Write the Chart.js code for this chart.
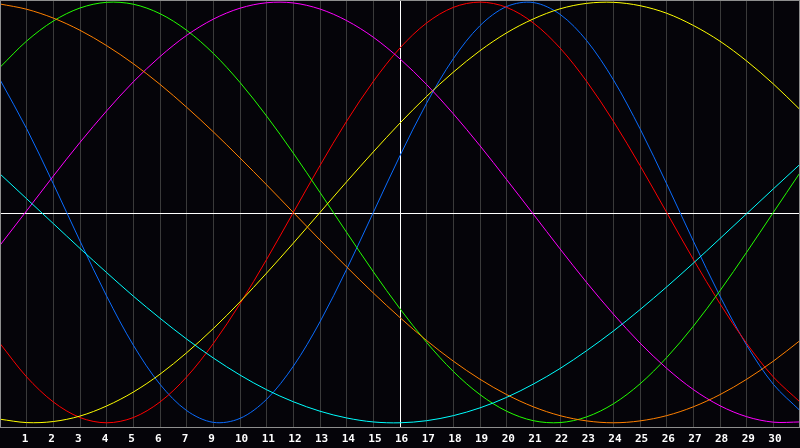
<!DOCTYPE html>
<html>
<head>
<meta charset="utf-8">
<style>
  html, body { margin: 0; padding: 0; background: #050409; }
  canvas { display: block; }
</style>
</head>
<body>
<canvas id="bio" width="800" height="448"></canvas>
<script src="https://cdn.jsdelivr.net/npm/chart.js@4.4.1/dist/chart.umd.min.js"></script>
<script>
// day positions along the axis (0 and 30 are the frame edges)
const days = [0, 1, 2, 3, 4, 5, 6, 7, 8, 9, 10, 11, 12, 13, 14, 15, 16, 17, 18, 19, 20, 21, 22, 23, 24, 25, 26, 27, 28, 29, 30];
// labels under the grid lines (the chart skips 8)
const dayLabels = ['', '1', '2', '3', '4', '5', '6', '7', '9', '10', '11', '12', '13', '14', '15', '16', '17', '18', '19', '20', '21', '22', '23', '24', '25', '26', '27', '28', '29', '30', ''];
const todayIndex = 15;

// curve values, -100..100
const blue    = [63.1, 39.8, 13.6, -13.6, -39.8, -63.1, -81.7, -94.2, -99.8, -97.9, -88.8, -73.1, -52.0, -27.0, 0, 27.0, 52.0, 73.1, 88.8, 97.9, 99.8, 94.2, 81.7, 63.1, 39.8, 13.6, -13.6, -39.8, -63.1, -81.7, -94.2];
const red     = [-62.3, -78.2, -90.1, -97.5, -100, -97.5, -90.1, -78.2, -62.3, -43.4, -22.3, 0, 22.3, 43.4, 62.3, 78.2, 90.1, 97.5, 100, 97.5, 90.1, 78.2, 62.3, 43.4, 22.3, 0, -22.3, -43.4, -62.3, -78.2, -90.1];
const green   = [69.0, 81.5, 91.0, 97.2, 99.9, 99.0, 94.5, 86.6, 75.6, 61.8, 45.8, 28.2, 9.5, -9.5, -28.2, -45.8, -61.8, -75.6, -86.6, -94.5, -99.0, -99.9, -97.2, -91.0, -81.5, -69.0, -54.1, -37.2, -18.9, 0, 18.9];
const magenta = [-15.6, 0.8, 17.3, 33.3, 48.3, 62.1, 74.1, 84.2, 91.9, 97.1, 99.7, 99.6, 96.7, 91.2, 83.3, 73.0, 60.8, 46.9, 31.7, 15.6, -0.8, -17.3, -33.3, -48.3, -62.1, -74.1, -84.2, -91.9, -97.1, -99.7, -99.6];
const yellow  = [-98.3, -99.9, -99.4, -96.8, -92.0, -85.4, -76.9, -66.7, -55.2, -42.5, -28.8, -14.6, 0, 14.6, 28.8, 42.5, 55.2, 66.7, 76.9, 85.4, 92.0, 96.8, 99.4, 99.9, 98.3, 94.7, 88.9, 81.4, 72.0, 61.1, 48.9];
const orange  = [99.1, 96.6, 92.4, 86.6, 79.3, 70.7, 60.9, 50.0, 38.3, 25.9, 13.1, 0, -13.1, -25.9, -38.3, -50.0, -60.9, -70.7, -79.3, -86.6, -92.4, -96.6, -99.1, -100, -99.1, -96.6, -92.4, -86.6, -79.3, -70.7, -60.9];
const cyan    = [18.3, 6.5, -5.3, -17.1, -28.6, -39.8, -50.3, -60.2, -69.2, -77.3, -84.3, -90.0, -94.5, -97.7, -99.6, -100, -99.0, -96.6, -92.9, -87.9, -81.6, -74.2, -65.7, -56.4, -46.2, -35.4, -24.1, -12.4, -0.6, 11.2, 22.9];

function pts(values) {
  return values.map((v, i) => ({ x: days[i], y: v }));
}

function line(values, color) {
  return {
    data: pts(values),
    borderColor: color,
    borderWidth: 1,
    pointRadius: 0,
    tension: 0.33,
    fill: false
  };
}

const framePlugin = {
  id: 'frame',
  beforeDraw(chart) {
    const c = chart.ctx;
    c.save();
    c.fillStyle = '#050409';
    c.fillRect(0, 0, chart.width, chart.height);
    c.restore();
  },
  beforeDatasetsDraw(chart) {
    const c = chart.ctx;
    const a = chart.chartArea;
    const xs = chart.scales.x;
    const ys = chart.scales.y;
    c.save();
    c.strokeStyle = '#ffffff';
    c.lineWidth = 1;
    const my = Math.round(ys.getPixelForValue(0)) + 1.5;
    c.beginPath();
    c.moveTo(a.left, my);
    c.lineTo(a.right, my);
    const tx = Math.round(xs.getPixelForValue(days[todayIndex])) + 0.5;
    c.moveTo(tx, a.top);
    c.lineTo(tx, a.bottom);
    c.stroke();
    c.restore();
  },
  afterDatasetsDraw(chart) {
    const c = chart.ctx;
    const a = chart.chartArea;
    c.save();
    c.strokeStyle = '#8e8e8e';
    c.lineWidth = 1;
    c.strokeRect(a.left + 0.5, a.top + 0.5, a.right - a.left - 1, a.bottom - a.top);
    c.restore();
  }
};

new Chart(document.getElementById('bio'), {
  type: 'line',
  data: {
    datasets: [
      line(cyan, '#00ffff'),
      line(orange, '#ff8000'),
      line(magenta, '#ff00ff'),
      line(yellow, '#ffff00'),
      line(green, '#22ff00'),
      line(red, '#ff0000'),
      line(blue, '#0a6cff')
    ]
  },
  options: {
    responsive: false,
    devicePixelRatio: 1,
    animation: false,
    layout: { padding: 0, autoPadding: false },
    plugins: {
      legend: { display: false },
      tooltip: { enabled: false }
    },
    scales: {
      x: {
        type: 'linear',
        min: 0,
        max: 30,
        border: { display: false },
        grid: { color: '#3a3a3a', drawTicks: true, tickLength: 6, tickColor: 'rgba(0,0,0,0)' },
        ticks: {
          stepSize: 1,
          autoSkip: false,
          maxRotation: 0,
          align: 'start',
          labelOffset: -5,
          padding: 0,
          color: '#ffffff',
          font: { family: 'DejaVu Sans Mono', size: 11, weight: 'bold' },
          callback: (value) => dayLabels[value] ?? ''
        },
        afterFit: (scale) => { scale.height = 21; }
      },
      y: {
        display: false,
        min: -102,
        max: 101
      }
    }
  },
  plugins: [framePlugin]
});
</script>
</body>
</html>
